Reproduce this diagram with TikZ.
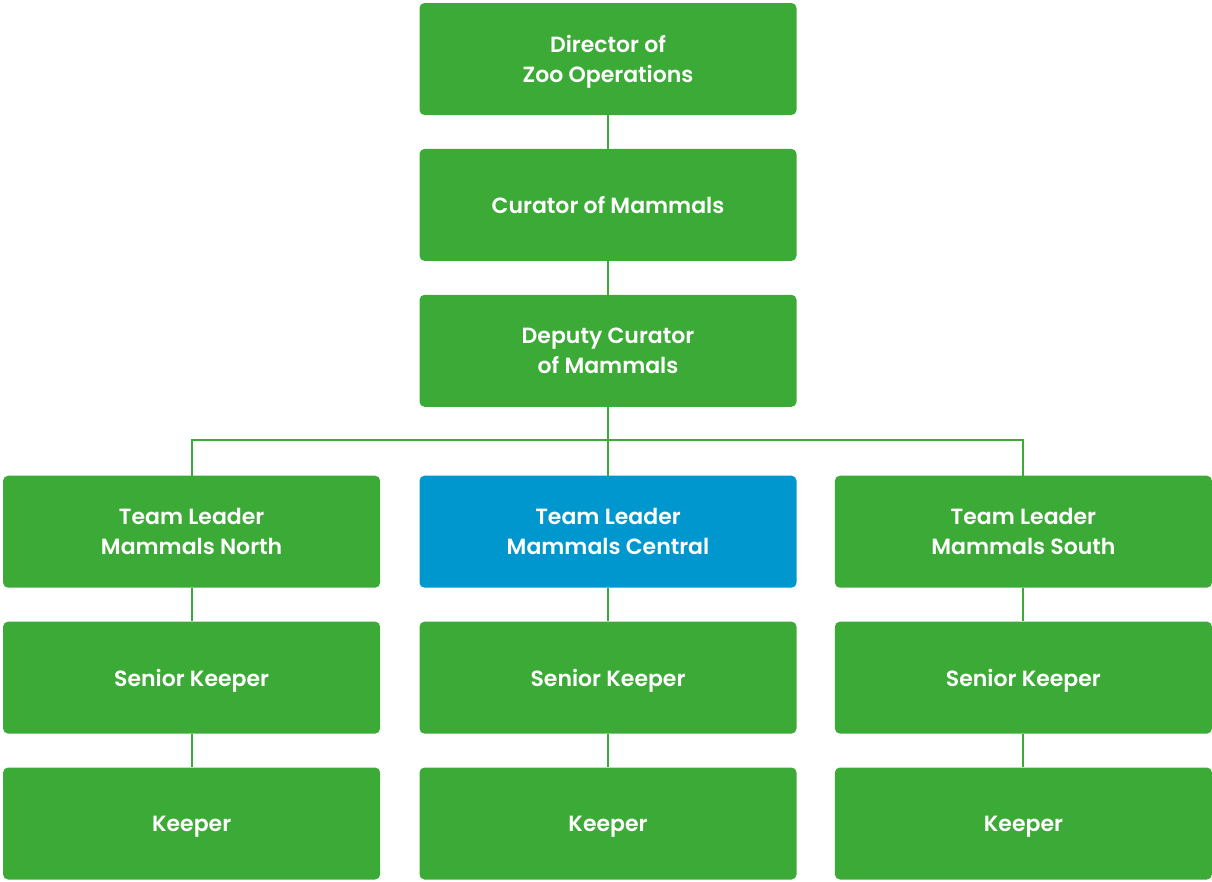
\documentclass[tikz,border=0pt]{standalone}
\usepackage{fontspec}
\setmainfont{Poppins}[UprightFont=* SemiBold]
\usetikzlibrary{positioning}
\usetikzlibrary{calc}

\definecolor{zoogreen}{HTML}{3CAA36}
\definecolor{zooblue}{HTML}{0097CE}

\tikzset{
    role/.style={minimum width=377pt, minimum height=112pt, inner sep=0pt,
        rounded corners=5pt, fill=zoogreen, text=white, align=center,
        text depth=0pt, font=\fontsize{22}{30}\selectfont},
    link/.style={draw=zoogreen, line width=2pt}
}

\begin{document}
\begin{tikzpicture}[node distance=33.5pt]
        \useasboundingbox (0,0) rectangle (1212pt,-881pt);
        \node[role] (director) at (608pt,-59pt) {Director of\\Zoo Operations};
        \node[role, below=of director] (curator) {Curator of Mammals};
        \node[role, below=of curator] (deputy) {Deputy Curator\\of Mammals};

        \node[role, fill=zooblue, below=68.5pt of deputy] (central) {Team Leader\\Mammals Central};
        \node[role, left=39pt of central] (north) {Team Leader\\Mammals North};
        \node[role, right=38pt of central] (south) {Team Leader\\Mammals South};

        \node[role, below=of north] (seniorNorth) {Senior Keeper};
        \node[role, below=of central] (seniorCentral) {Senior Keeper};
        \node[role, below=of south] (seniorSouth) {Senior Keeper};
        \node[role, below=of seniorNorth] (keeperNorth) {Keeper};
        \node[role, below=of seniorCentral] (keeperCentral) {Keeper};
        \node[role, below=of seniorSouth] (keeperSouth) {Keeper};

        \draw[link] (director) -- (curator);
        \draw[link] (curator) -- (deputy);
        \draw[link] (deputy) -- (central);
        \coordinate (fork) at ($(deputy.south)!0.48!(central.north)$);
        \draw[link] (north.north) |- (fork) -| (south.north);
        \foreach \branch in {North, Central, South} {
            \draw[link] (senior\branch) -- (keeper\branch);
        }
        \draw[link] (north) -- (seniorNorth);
        \draw[link] (central) -- (seniorCentral);
        \draw[link] (south) -- (seniorSouth);
    \end{tikzpicture}
\end{document}
